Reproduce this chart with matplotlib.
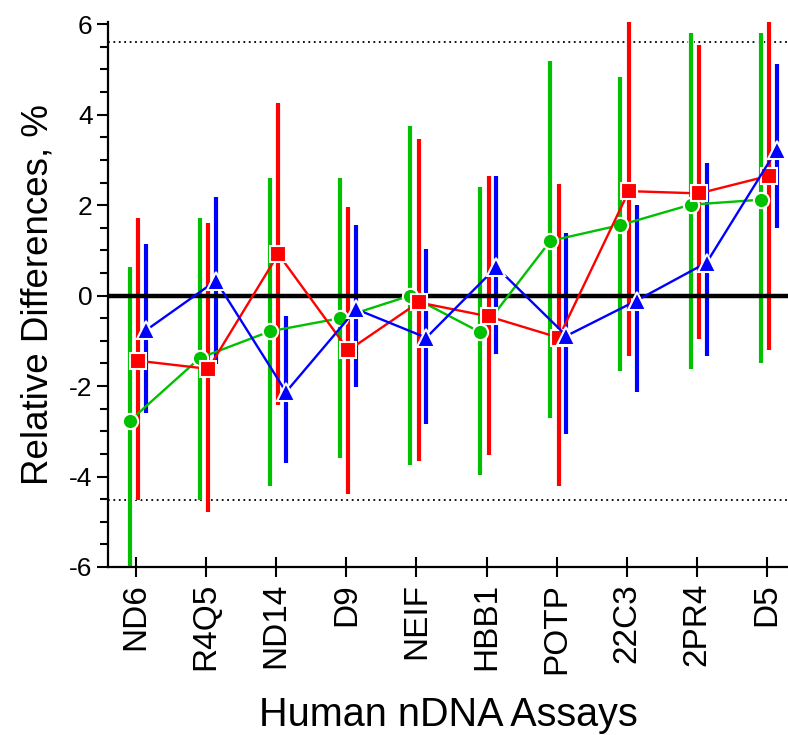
import matplotlib.pyplot as plt
import matplotlib.patheffects as pe
import numpy as np

plt.rcParams['font.family'] = ['Liberation Sans', 'DejaVu Sans']
plt.rcParams['axes.unicode_minus'] = False

assays = ['ND6', 'R4Q5', 'ND14', 'D9', 'NEIF', 'HBB1', 'POTP', '22C3', '2PR4', 'D5']

# green circles
green = [-2.77, -1.38, -0.79, -0.50, 0.00, -0.81, 1.21, 1.56, 2.01, 2.12]
green_lo = [-6.2, -4.52, -4.21, -3.59, -3.75, -3.97, -2.70, -1.66, -1.62, -1.49]
green_hi = [0.63, 1.72, 2.59, 2.59, 3.74, 2.41, 5.19, 4.84, 5.81, 5.81]

# red squares
red = [-1.44, -1.62, 0.92, -1.21, -0.15, -0.46, -0.93, 2.31, 2.26, 2.65]
red_lo = [-4.53, -4.79, -2.42, -4.39, -3.65, -3.53, -4.20, -1.33, -0.97, -1.20]
red_hi = [1.72, 1.61, 4.26, 1.95, 3.46, 2.64, 2.47, 6.2, 5.54, 6.5]

# blue triangles
blue = [-0.77, 0.33, -2.13, -0.30, -0.93, 0.63, -0.89, -0.11, 0.73, 3.23]
blue_lo = [-2.60, -1.52, -3.69, -2.02, -2.83, -1.28, -3.06, -2.13, -1.33, 1.50]
blue_hi = [1.15, 2.18, -0.46, 1.56, 1.04, 2.64, 1.38, 2.01, 2.93, 5.13]

limits = [5.61, -4.53]

fig = plt.figure(figsize=(7.88, 7.35), dpi=100)
ax = fig.add_axes([0.137, 0.2286, 0.863, 0.7415])

x = np.arange(len(assays))
series = [
    (green, green_lo, green_hi, '#00c000', 'o', 11, -0.09),
    (red, red_lo, red_hi, '#ff0000', 's', 11.5, 0.03),
    (blue, blue_lo, blue_hi, '#0000ff', '^', 12.5, 0.14),
]

for vals, lo, hi, col, mk, ms, off in series:
    ax.vlines(x + off, lo, hi, color=col, lw=3.0, zorder=2,
              path_effects=[pe.Stroke(linewidth=4.2, foreground='white'), pe.Normal()])

ax.axhline(0, color='black', lw=3.2, zorder=2.5)
for v in limits:
    ax.axhline(v, color='black', lw=1.3, ls=(0, (1, 2)), zorder=1)

for i, (vals, lo, hi, col, mk, ms, off) in enumerate(series):
    ax.plot(x + off, vals, color=col, lw=1.7, marker=mk, ms=ms,
            mfc=col, mec='white', mew=1.5, zorder=3 + i)

ax.set_xlim(-0.40, 9.30)
ax.set_ylim(-6, 6.05)
ax.set_xticks(x)
ax.set_xticklabels(assays, rotation=90, fontsize=24)
ax.set_yticks(np.arange(-6, 7, 2))
ax.set_yticks(np.arange(-6, 6.1, 0.5), minor=True)
ax.tick_params(axis='y', which='major', length=8, width=1.5, labelsize=19, pad=3)
ax.tick_params(axis='y', which='minor', length=5.5, width=1.5)
ax.tick_params(axis='x', direction='inout', length=15, width=1.5, pad=4)

for s in ['top', 'right']:
    ax.spines[s].set_visible(False)
for s in ['left', 'bottom']:
    ax.spines[s].set_linewidth(1.6)

ax.set_ylabel('Relative Differences, %', fontsize=26.5, labelpad=10)
ax.set_xlabel('Human nDNA Assays', fontsize=28.5, labelpad=16)

fig.savefig('out.png', dpi=100)
